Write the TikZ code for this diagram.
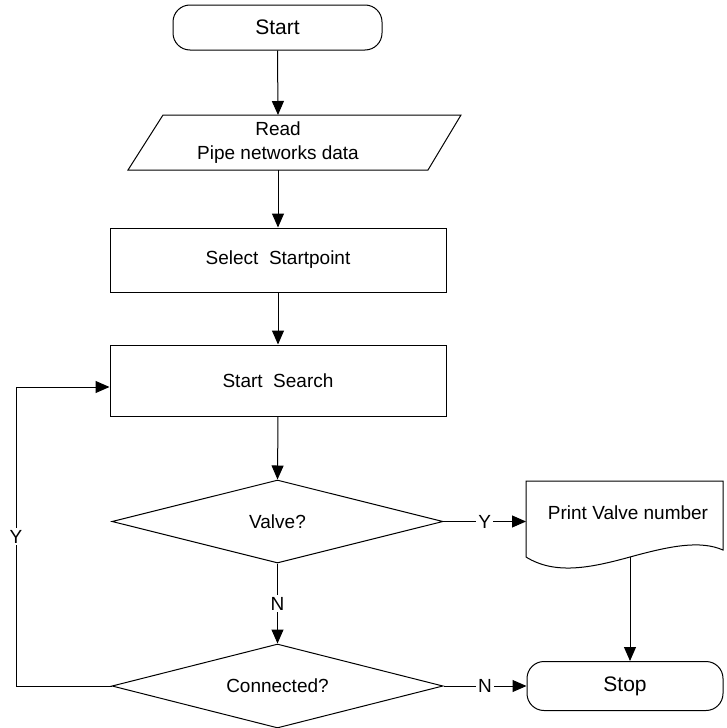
\documentclass[tikz,border=0pt]{standalone}
\usepackage{fontspec}
\setmainfont{Liberation Sans}
\usetikzlibrary{shapes.geometric,arrows.meta}
\begin{document}
\begin{tikzpicture}[x=1pt,y=-1pt,
  line width=1pt,
  txt/.style={font=\fontsize{19}{24}\selectfont},
  term/.style={draw, rounded corners=17pt, minimum width=209pt, minimum height=45pt, inner sep=0pt, font=\fontsize{21}{24}\selectfont},
  proc/.style={draw, minimum width=336pt, inner sep=0pt, txt},
  dec/.style={draw, diamond, aspect=4, minimum width=331pt, minimum height=83pt, inner sep=0pt, txt},
  ghost/.style={inner sep=0pt, outer sep=0pt},
  arr/.style={-{Triangle[length=14pt,width=12pt]}},
  lbl/.style={fill=white, inner sep=2pt, txt}
]
\useasboundingbox (0,0) rectangle (726,728);

% Start
\node[term] (start) at (277.5,27.5) {Start};

% Read (parallelogram)
\draw (163,115) -- (461,115) -- (428,170) -- (128,170) -- cycle;
\node[ghost, minimum width=300pt, minimum height=55pt, align=center, txt] (read) at (278,142.5) {Read\\Pipe networks data};

% Processes
\node[proc, minimum height=64pt] (sel) at (278,260) {Select~ Startpoint};
\node[proc, minimum height=71pt] (search) at (278,380.5) {Start~ Search};

% Decisions
\node[dec] (valve) at (277.5,521.5) {Valve?};
\node[dec, minimum height=84pt] (conn) at (277.5,686) {Connected?};

% Print document
\draw (526,481) -- (723,481) -- (723,550)
  .. controls (700,540) and (670,546) .. (630,557)
  .. controls (590,568) and (555,575) .. (526,557) -- cycle;
\node[ghost, minimum width=197pt, minimum height=76pt] (print) at (624.5,519) {};
\node[txt] (printtxt) at (628,513) {Print Valve number};
\coordinate (pbot) at (630,557);

% Stop
\node[term, minimum width=196pt, minimum height=49pt] (stop) at (625,686) {Stop};

% Connectors
\draw[arr] (start.south) -- (read.north);
\draw[arr] (read.south) -- (sel.north);
\draw[arr] (sel.south) -- (search.north);
\draw[arr] (search.south) -- (valve.north);
\draw[arr] (valve.east) -- node[lbl]{Y} (valve.east -| print.west);
\draw[arr] (valve.south) -- node[lbl]{N} (conn.north);
\draw[arr] (conn.east) -- node[lbl]{N} (stop.west);
\draw[arr] (pbot) -- (pbot |- stop.north);
\coordinate (loopc) at (16,387);
\draw[arr] (conn.west) -| node[lbl, pos=0.75]{Y} (loopc) -- (loopc -| search.west);
\end{tikzpicture}
\end{document}
